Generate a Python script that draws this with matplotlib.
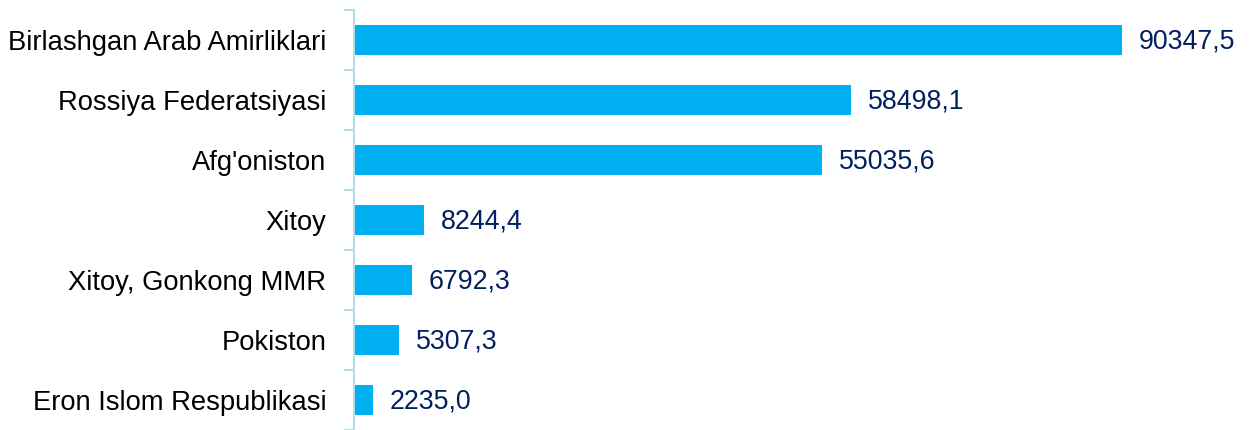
import matplotlib.pyplot as plt
import numpy as np

plt.rcParams['font.family'] = ['Liberation Sans', 'DejaVu Sans']

countries = ['Birlashgan Arab Amirliklari', 'Rossiya Federatsiyasi', "Afg'oniston",
             'Xitoy', 'Xitoy, Gonkong MMR', 'Pokiston', 'Eron Islom Respublikasi']
values = [90347.5, 58498.1, 55035.6, 8244.4, 6792.3, 5307.3, 2235.0]
labels = ['90347,5', '58498,1', '55035,6', '8244,4', '6792,3', '5307,3', '2235,0']

bar_color = '#00b0f0'
axis_color = '#b4dcec'
text_color = '#002060'

fig = plt.figure(figsize=(12.49, 4.30), dpi=100)
ax = fig.add_axes([354 / 1249, 0.0, 1 - 354 / 1249, 420 / 430])

y = np.arange(len(countries))
ax.barh(y, values, height=0.5, color=bar_color, left=0)
for yi, v, lab in zip(y, values, labels):
    ax.text(v + 2000, yi + 0.03, lab, va='center', ha='left', fontsize=19.3, color=text_color)

ax.set_xlim(0, 105300)
ax.set_ylim(len(countries) - 0.5, -0.5)

ax.set_yticks(np.arange(-0.5, len(countries), 1))
ax.set_yticklabels([])
ax.set_yticks(y, minor=True)
ax.set_yticklabels(countries, minor=True, fontsize=19.7, color='#000000')
ax.tick_params(axis='y', which='major', length=7, width=1.5, color=axis_color, direction='out')
ax.tick_params(axis='y', which='minor', length=0, pad=20)
ax.set_xticks([])

for s in ['top', 'right', 'bottom']:
    ax.spines[s].set_visible(False)
ax.spines['left'].set_color(axis_color)
ax.spines['left'].set_linewidth(1.5)

fig.savefig('out.png', dpi=100)
